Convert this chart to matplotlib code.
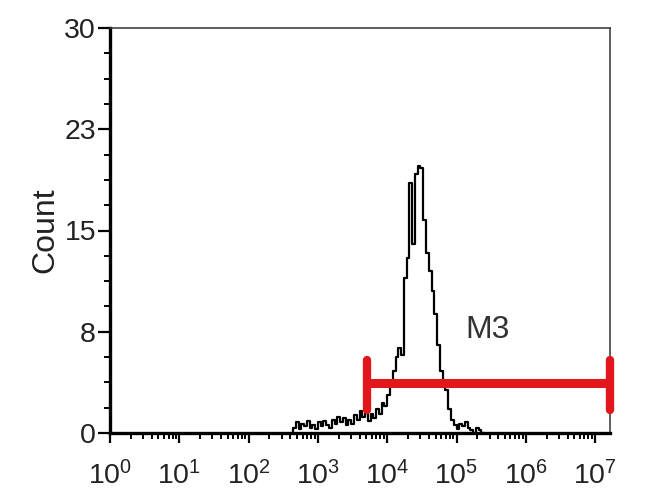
import numpy as np
import matplotlib
matplotlib.use("Agg")
import matplotlib.pyplot as plt
from matplotlib.ticker import FixedLocator, LogLocator, NullFormatter

plt.rcParams["font.family"] = ["Liberation Sans", "DejaVu Sans"]
plt.rcParams["mathtext.default"] = "regular"

# histogram channels (log10 of fluorescence) and counts
chan_log = [2.62, 2.66, 2.70, 2.74, 2.78, 2.82, 2.86, 2.90, 2.94, 2.98,
            3.02, 3.06, 3.10, 3.14, 3.18, 3.22, 3.26, 3.30, 3.34, 3.38,
            3.42, 3.46, 3.50, 3.54, 3.58, 3.62, 3.66, 3.70, 3.74, 3.78,
            3.82, 3.86, 3.90, 3.94, 3.98, 4.02, 4.06, 4.10, 4.14, 4.18,
            4.22, 4.26, 4.30, 4.34, 4.38, 4.42, 4.46, 4.50, 4.54, 4.58,
            4.62, 4.66, 4.70, 4.74, 4.78, 4.82, 4.86, 4.90, 4.94, 4.98,
            5.02, 5.06, 5.10, 5.14, 5.18, 5.22, 5.26, 5.30, 5.34, 5.38]
counts = [0.0, 0.4, 0.8, 0.3, 0.7, 0.5, 0.9, 0.4, 0.6, 0.3,
          0.8, 0.5, 0.9, 0.6, 0.4, 1.0, 0.7, 1.2, 0.8, 1.1,
          0.6, 1.0, 0.7, 1.3, 1.0, 1.6, 1.2, 1.5, 0.9, 1.4,
          1.1, 1.8, 1.4, 2.2, 2.0, 2.8, 3.5, 4.6, 5.6, 6.3,
          5.8, 11.5, 13.0, 18.5, 14.0, 19.2, 19.8, 19.6, 15.8, 13.3,
          12.0, 10.5, 8.8, 6.5, 4.6, 3.8, 3.2, 1.8, 1.0, 0.6,
          0.3, 0.7, 0.5, 0.8, 0.4, 0.2, 0.0, 0.4, 0.2, 0.0]

# marker M3
gate_lo = 5100
gate_hi = 10 ** 7.215
gate_y = 3.7
cap_lo, cap_hi = 1.7, 5.4

yticks = [0, 7.5, 15, 22.5, 30]
ylabels = ["0", "8", "15", "23", "30"]
xticks = [1e0, 1e1, 1e2, 1e3, 1e4, 1e5, 1e6, 1e7]
xlabels = [r"$10^{%d}$" % i for i in range(8)]

fig = plt.figure(figsize=(6.5, 4.96), dpi=100)
ax = fig.add_axes([110 / 650, 63 / 496, 500 / 650, 405 / 496])

x = [10 ** v for v in chan_log]
ax.step(x, counts, where="mid", color="black", lw=1.6)

red = "#e3161c"
ax.plot([gate_lo, gate_hi], [gate_y, gate_y], color=red, lw=6.5,
        solid_capstyle="butt", clip_on=False, zorder=3)
for gx in (gate_lo, gate_hi):
    ax.plot([gx, gx], [cap_lo, cap_hi], color=red, lw=6,
            solid_capstyle="round", clip_on=False, zorder=3)
ax.text(10 ** 5.45, 7.6, "M3", fontsize=23, color="#333333",
        ha="center", va="center")

ax.set_xscale("log")
ax.set_xlim(1, 10 ** 7.215)
ax.set_ylim(0, 30)

ax.xaxis.set_major_locator(FixedLocator(xticks))
ax.set_xticklabels(xlabels)
ax.xaxis.set_minor_locator(LogLocator(base=10, subs=np.arange(2, 10), numticks=20))
ax.xaxis.set_minor_formatter(NullFormatter())
ax.set_yticks(yticks)
ax.set_yticklabels(ylabels)
ax.set_yticks([1.875 * k for k in range(17) if k % 4], minor=True)

ax.tick_params(axis="both", which="major", direction="out", labelsize=20.5,
               labelcolor="#222222", width=1.6)
ax.tick_params(axis="y", which="major", length=9, pad=1)
ax.tick_params(axis="x", which="major", length=7.5, pad=13)
ax.tick_params(axis="both", which="minor", direction="out", length=4.5, width=1.4)

ax.spines["left"].set_linewidth(2.4)
ax.spines["bottom"].set_linewidth(2.4)
for s in ("top", "right"):
    ax.spines[s].set_linewidth(1.1)
    ax.spines[s].set_color("#333333")

ax.set_ylabel("Count", fontsize=23, color="#222222")
ax.yaxis.set_label_coords(-0.1, 0.5)

fig.savefig("out.png", dpi=100)
